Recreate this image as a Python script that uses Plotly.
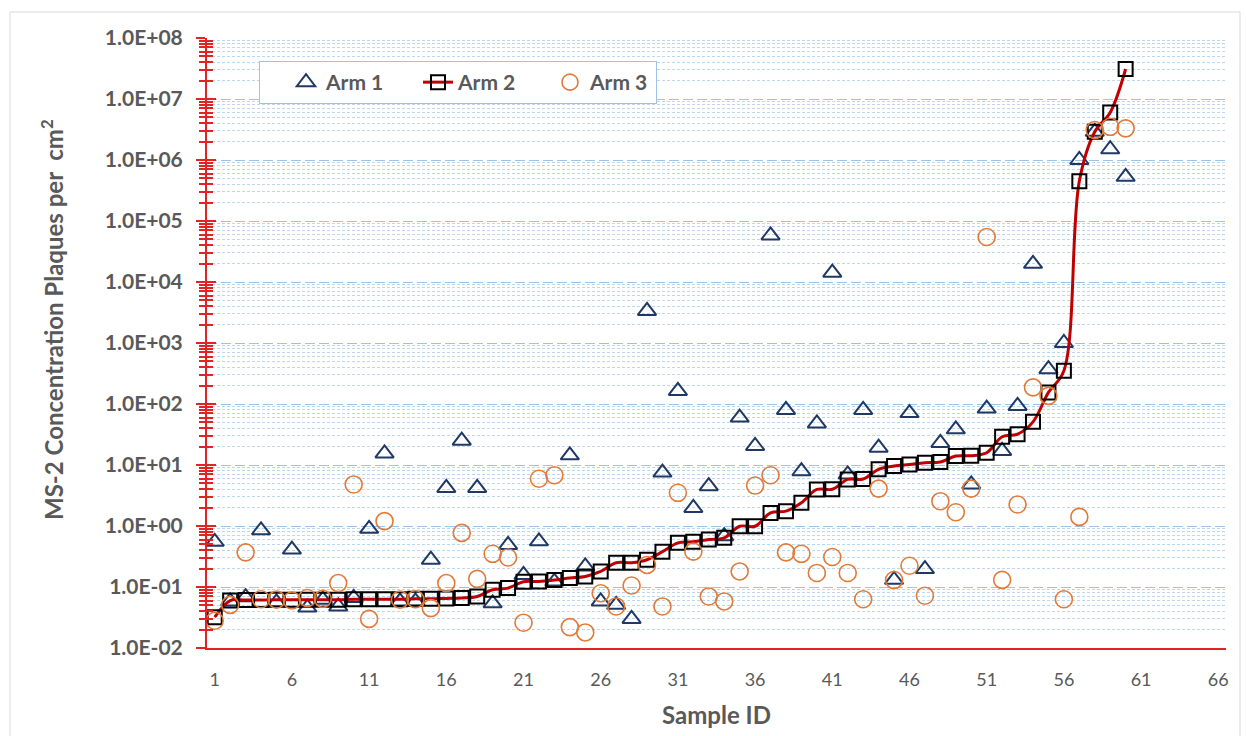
import plotly.graph_objects as go

# ---- data ----
sample_id = list(range(1, 61))

arm1 = [0.55, 0.058, 0.068, 0.85, 0.056, 0.41, 0.046, 0.062, 0.048, 0.066,
        0.9, 15.5, 0.058, 0.058, 0.28, 4.2, 25, 4.2, 0.054, 0.49,
        0.158, 0.56, 0.123, 14.4, 0.217, 0.058, 0.051, 0.030, 3360, 7.5,
        164, 1.98, 4.5, 0.68, 60, 20.5, 58000, 80, 7.9, 48,
        14200, 7.0, 80, 19.2, 0.131, 71, 0.197, 23, 38.5, 4.8,
        84, 17, 93, 19900, 373, 1000, 1.0e6, 2.9e6, 1.5e6, 5.3e5]

arm2 = [0.032, 0.06, 0.061, 0.061, 0.062, 0.062, 0.062, 0.062, 0.062, 0.063,
        0.063, 0.063, 0.063, 0.064, 0.064, 0.065, 0.066, 0.07, 0.09, 0.096,
        0.122, 0.123, 0.13, 0.14, 0.149, 0.18, 0.25, 0.25, 0.28, 0.38,
        0.53, 0.55, 0.6, 0.64, 0.99, 0.99, 1.64, 1.75, 2.4, 3.97,
        4.0, 5.8, 5.9, 8.5, 9.6, 10.2, 10.9, 11.2, 14.0, 14.2,
        15.9, 29, 32, 51, 155, 351, 4.5e5, 2.9e6, 6.0e6, 3.1e7]

arm3 = [0.028, 0.051, 0.37, 0.063, 0.062, 0.06, 0.066, 0.064, 0.116, 4.8,
        0.030, 1.2, 0.062, 0.063, 0.045, 0.116, 0.77, 0.136, 0.35, 0.305,
        0.026, 5.95, 6.8, 0.022, 0.018, 0.079, 0.048, 0.106, 0.23, 0.048,
        3.5, 0.38, 0.07, 0.058, 0.18, 4.6, 6.8, 0.37, 0.35, 0.17,
        0.31, 0.17, 0.063, 4.1, 0.13, 0.223, 0.072, 2.55, 1.68, 4.1,
        54700, 0.131, 2.25, 187, 136, 0.063, 1.41, 3.1e6, 3.5e6, 3.3e6]

series_names = ["Arm 1", "Arm 2", "Arm 3"]
decades = list(range(-2, 9))
y_tickvals = [10.0 ** e for e in decades]
y_ticktext = [f"1.0E{e:+03d}" for e in decades]
minor_vals = [m * 10.0 ** e for e in range(-2, 8) for m in range(2, 10)]
x_tick0, x_dtick = 1, 5

# ---- styles ----
TXT = "#595959"
RED_AX = "#E02424"
GRID_MAJ = "#9DC3E6"
GRID_MIN = "#BDD7EE"
FONT = "Lato"

fig = go.Figure()
fig.add_trace(go.Scatter(
    x=sample_id, y=arm1, name=series_names[0], mode="markers",
    marker=dict(symbol="triangle-up-open", size=16, color="#1F3864",
                line=dict(width=2, color="#1F3864"))))
fig.add_trace(go.Scatter(
    x=sample_id, y=arm2, name=series_names[1], mode="lines+markers",
    line=dict(color="#C00000", width=3, shape="spline", smoothing=1),
    marker=dict(symbol="square-open", size=14, color="#000000",
                line=dict(width=2, color="#000000"))))
fig.add_trace(go.Scatter(
    x=sample_id, y=arm3, name=series_names[2], mode="markers",
    marker=dict(symbol="circle-open", size=17, color="#E07B39",
                line=dict(width=1.6, color="#E07B39"))))

L, R, T, B = 207, 20, 38, 88
W, H = 1246, 736
pw, ph = W - L - R, H - T - B


def px_x(p):
    return (p - L) / pw


def px_y(p):
    return (H - B - p) / ph


fig.update_layout(
    width=W, height=H,
    margin=dict(l=L, r=R, t=T, b=B),
    paper_bgcolor="white", plot_bgcolor="white",
    font=dict(family=FONT, color=TXT),
    showlegend=True,
    legend=dict(orientation="h", x=px_x(259), y=px_y(61),
                xanchor="left", yanchor="top",
                bordercolor=GRID_MAJ, borderwidth=1, bgcolor="white",
                font=dict(family=FONT, size=21, color=TXT, weight="bold"),
                entrywidth=61, itemwidth=30, indentation=26),
    xaxis=dict(range=[0.5, 66.5], tickmode="linear", tick0=x_tick0, dtick=x_dtick,
               showgrid=False, zeroline=False, showline=True,
               linecolor=RED_AX, linewidth=2, ticks="",
               tickfont=dict(family=FONT, size=18, color=TXT),
               ticklabelstandoff=14),
    yaxis=dict(type="log", range=[-2, 8], tickmode="array",
               tickvals=y_tickvals, ticktext=y_ticktext,
               showline=True, linecolor=RED_AX, linewidth=2,
               ticks="outside", ticklen=9, tickwidth=2, tickcolor=RED_AX,
               showgrid=True, gridcolor=GRID_MAJ, gridwidth=1, griddash="10px,4px",
               tickfont=dict(family=FONT, size=21, color=TXT, weight="bold"),
               ticklabelstandoff=9,
               minor=dict(tickmode="array", tickvals=minor_vals,
                          ticks="outside", ticklen=6, tickwidth=1.5,
                          tickcolor=RED_AX, showgrid=True,
                          gridcolor=GRID_MIN, gridwidth=1, griddash="3px,2px")),
    yaxis2=dict(type="log", range=[-2, 8], overlaying="y", side="left",
                tickmode="array", tickvals=y_tickvals, showticklabels=False,
                ticks="inside", ticklen=9, tickwidth=2, tickcolor=RED_AX,
                showgrid=False, showline=False, zeroline=False,
                minor=dict(tickmode="array", tickvals=minor_vals,
                           ticks="inside", ticklen=6, tickwidth=1.5,
                           tickcolor=RED_AX, showgrid=False)),
    annotations=[
        dict(text="MS-2 Concentration Plaques per  cm<sup>2</sup>",
             xref="paper", yref="paper", x=px_x(52), y=px_y(320),
             xanchor="center", yanchor="middle",
             textangle=-90, showarrow=False,
             font=dict(family=FONT, size=24, color=TXT, weight="bold")),
        dict(text="Sample ID", xref="paper", yref="paper",
             x=px_x(716), y=px_y(714), xanchor="center", yanchor="middle",
             showarrow=False,
             font=dict(family=FONT, size=24, color=TXT, weight="bold")),
    ],
    shapes=[dict(type="rect", xref="paper", yref="paper",
                 x0=px_x(10), x1=px_x(1240), y0=px_y(745), y1=px_y(12),
                 line=dict(color="#D9D9D9", width=1), layer="below")],
)

# invisible helper so the overlaid tick axis is drawn
fig.add_trace(go.Scatter(x=[None], y=[None], yaxis="y2", showlegend=False,
                         hoverinfo="skip"))

fig.write_html("out.html")
